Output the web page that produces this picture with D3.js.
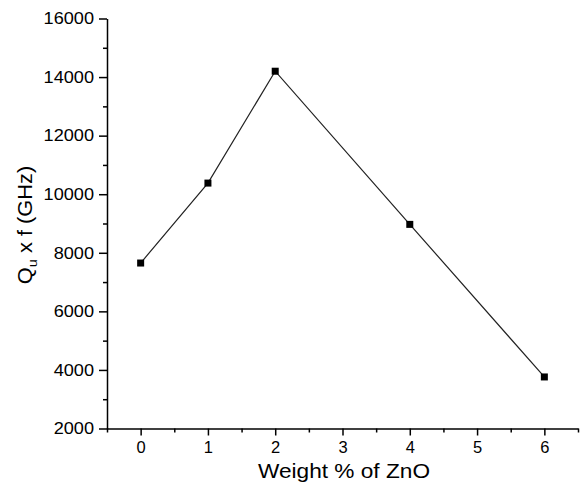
<!DOCTYPE html>
<html>
<head>
<meta charset="utf-8">
<script src="https://cdn.jsdelivr.net/npm/d3@7"></script>
<style>
  body { margin: 0; background: #fff; }
  svg text { font-family: "Liberation Sans", Arial, sans-serif; fill: #000; }
</style>
</head>
<body>
<svg width="580" height="484"></svg>
<script>
// data
const znoWeight = [0, 1, 2, 4, 6];
const qf = [7650, 10380, 14200, 8970, 3760];
const xTicks = [0, 1, 2, 3, 4, 5, 6];
const yTicks = [2000, 4000, 6000, 8000, 10000, 12000, 14000, 16000];

const svg = d3.select("svg");

const x = d3.scaleLinear().domain([-0.5, 6.5]).range([107, 578]);
const y = d3.scaleLinear().domain([2000, 16000]).range([428.5, 18.5]);

// minor ticks first
const xMinor = d3.range(-0.5, 6.6, 1);
const yMinor = d3.range(3000, 16000, 2000);

svg.append("g")
  .attr("transform", "translate(0,428.5)")
  .call(d3.axisBottom(x).tickValues(xMinor).tickSize(4).tickFormat(""))
  .call(g => g.select(".domain").remove())
  .selectAll("line").attr("stroke-width", 1.5);

svg.append("g")
  .attr("transform", "translate(107,0)")
  .call(d3.axisLeft(y).tickValues(yMinor).tickSize(4).tickFormat(""))
  .call(g => g.select(".domain").remove())
  .selectAll("line").attr("stroke-width", 1.5);

// main axes
const xAxis = svg.append("g")
  .attr("transform", "translate(0,428.5)")
  .call(d3.axisBottom(x).tickValues(xTicks).tickSize(7).tickPadding(6).tickSizeOuter(0).tickFormat(d3.format("d")));
xAxis.select(".domain").attr("stroke-width", 1.5);
xAxis.selectAll("line").attr("stroke-width", 1.5);
xAxis.selectAll("text").style("font-size", "16.5px");

const yAxis = svg.append("g")
  .attr("transform", "translate(107,0)")
  .call(d3.axisLeft(y).tickValues(yTicks).tickSize(8).tickPadding(5).tickSizeOuter(0).tickFormat(d3.format("d")));
yAxis.select(".domain").attr("stroke-width", 1.5);
yAxis.selectAll("line").attr("stroke-width", 1.5);
// labels look a bit wide in the original
yAxis.selectAll("text")
  .attr("x", 0)
  .attr("transform", "translate(-13,0) scale(1.1,1)")
  .style("font-size", "16.5px");

// line + markers
const pts = znoWeight.map((w, i) => ({ w: w, v: qf[i] }));

svg.append("path")
  .datum(pts)
  .attr("fill", "none")
  .attr("stroke", "#222")
  .attr("stroke-width", 1.2)
  .attr("d", d3.line().x(d => x(d.w)).y(d => y(d.v)));

svg.selectAll("rect.pt")
  .data(pts)
  .enter()
  .append("rect")
  .attr("class", "pt")
  .attr("x", d => x(d.w) - 3.5)
  .attr("y", d => y(d.v) - 3.5)
  .attr("width", 7)
  .attr("height", 7)
  .attr("fill", "#000");

// axis titles
svg.append("text")
  .attr("x", 344)
  .attr("y", 478)
  .attr("text-anchor", "middle")
  .attr("textLength", 172)
  .attr("lengthAdjust", "spacingAndGlyphs")
  .style("font-size", "19.5px")
  .text("Weight % of ZnO");

const yl = svg.append("text")
  .attr("transform", "translate(32,225) rotate(-90) scale(1.12,1)")
  .attr("text-anchor", "middle")
  .style("font-size", "19.5px");
yl.append("tspan").text("Q");
yl.append("tspan").attr("dy", 5).style("font-size", "13px").text("u");
yl.append("tspan").attr("dy", -5).text(" x f (GHz)");
</script>
</body>
</html>
